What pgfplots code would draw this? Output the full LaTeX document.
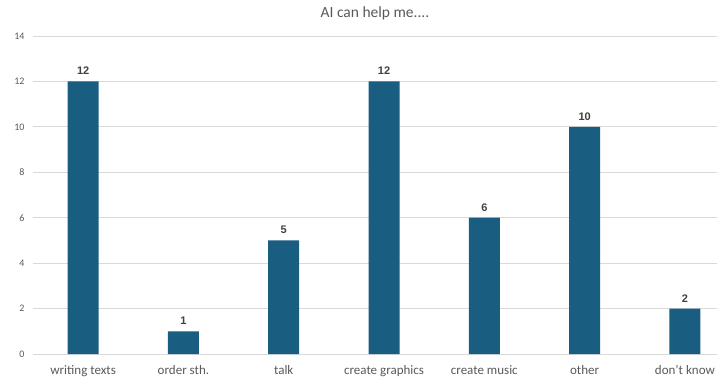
\documentclass[border=0pt]{standalone}
\usepackage{fontspec}
\setmainfont{Carlito}
\newfontfamily\labelfont{Liberation Sans}
\usepackage{pgfplots}
\pgfplotsset{compat=1.18}

\definecolor{barblue}{HTML}{195E81}
\definecolor{gridgray}{HTML}{D9D9D9}
\definecolor{textgray}{HTML}{595959}
\definecolor{labelgray}{HTML}{404040}

\begin{document}
\begin{tikzpicture}
\begin{axis}[
  scale only axis,
  width=684pt, height=318pt,
  xmin=-0.5, xmax=6.32,
  ymin=0, ymax=14,
  ytick={0,2,...,14},
  xtick=data,
  xticklabels={writing texts, order sth., talk, create graphics, create music, other, don't know},
  axis line style={draw=none},
  ymajorgrids,
  grid style={gridgray, line width=0.8pt},
  major tick length=0pt,
  tick label style={textgray},
  yticklabel style={font=\fontsize{10}{11}\selectfont, xshift=-5pt},
  xticklabel style={font=\fontsize{13}{15}\selectfont, yshift=-8pt},
  /pgf/number format/assume math mode=true,
  title={AI can help me....},
  title style={font=\fontsize{15.5}{17}\selectfont, textgray, yshift=6pt},
  clip=false,
  nodes near coords,
  nodes near coords style={font=\labelfont\bfseries\fontsize{11}{12}\selectfont, labelgray, yshift=3pt},
]
\addplot[ybar, bar width=31pt, fill=barblue, draw=none] coordinates {
  (0,12) (1,1) (2,5) (3,12) (4,6) (5,10) (6,2)
};
\coordinate (ll) at (rel axis cs:0,0);
\coordinate (ur) at (rel axis cs:1,1);
\end{axis}
\pgfresetboundingbox
\path ([xshift=-33pt,yshift=-29pt]ll) rectangle ([xshift=8pt,yshift=36pt]ur);
\end{tikzpicture}
\end{document}
